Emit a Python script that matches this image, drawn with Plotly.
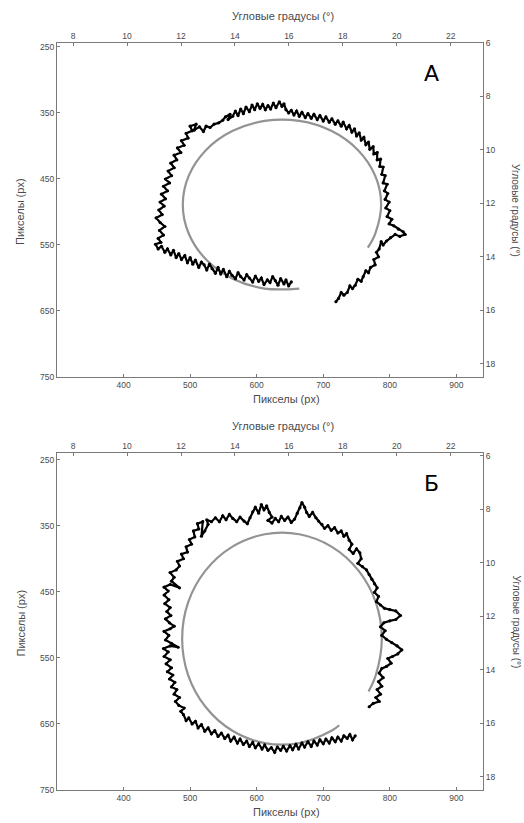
import plotly.graph_objects as go

# ---------------- data ----------------
# Panel A: target arc (gray), pixel-space coordinates of the experiment
arcA_x = [664, 612, 564, 524, 498, 489, 498, 524, 564, 612, 664, 712, 752, 778, 787, 778, 767]
arcA_y = [616, 616, 601, 572, 533, 489, 445, 406, 377, 362, 362, 377, 406, 445, 489, 533, 554]

# Panel A: gaze trace (black)
gazeA_x = [652, 648, 644, 641, 636, 632, 628, 624, 620, 616, 611, 607, 603, 598, 594, 589, 585, 581, 576, 572,
           568, 563, 559, 555, 550, 546, 542, 538, 533, 529, 525, 521, 517, 513, 508, 504, 500, 496, 492, 487,
           483, 479, 475, 471, 466, 462, 457, 452, 448, 456,
           452, 460, 454, 462, 455, 449, 458, 453, 461, 455, 463, 457, 466, 460, 469, 463, 472, 467, 476, 471,
           480, 476, 486, 481, 491, 487, 497, 494, 503, 500, 509, 506, 514, 520, 524,
           530, 536, 543, 549, 553, 560, 557, 564, 568, 572, 576, 580, 584, 589, 593, 597, 601, 605, 609, 613,
           617, 621, 625, 629, 634, 638, 641, 644, 648, 652, 656, 660, 664, 668, 673, 677, 682, 686, 691, 695,
           700, 704, 709, 713, 718, 722, 727, 730, 735, 739, 743, 747, 750, 754, 757, 761, 764, 768, 770, 775,
           776, 781, 781, 786, 785, 790, 788, 793, 790, 796, 792, 797, 793, 799, 794, 800, 796, 803, 799, 806,
           813, 820, 823, 815, 808, 801, 795, 790, 787, 784, 780, 783, 776, 778, 771, 768, 764, 760, 757, 752,
           748, 744, 740, 736, 731, 727, 723, 719]
gazeA_y = [606, 612, 603, 609, 601, 611, 604, 598, 607, 603, 610, 600, 605, 597, 606, 600, 595, 603, 598, 592,
           601, 596, 590, 598, 587, 594, 584, 593, 586, 579, 588, 580, 576, 584, 573, 579, 569, 577, 566, 572,
           563, 569, 558, 565, 556, 561, 552, 556, 549, 546,
           540, 535, 528, 522, 516, 509, 504, 497, 491, 485, 480, 473, 468, 461, 456, 450, 445, 438, 433, 426,
           421, 414, 410, 403, 399, 392, 388, 381, 377, 370, 367, 376, 371, 378, 370,
           372, 367, 365, 361, 356, 352, 360, 355, 347, 354, 344, 351, 341, 348, 338, 345, 336, 343, 337, 345,
           339, 344, 335, 342, 333, 340, 336, 345, 350, 346, 353, 347, 355, 349, 357, 351, 358, 352, 360, 354,
           362, 356, 364, 359, 367, 362, 370, 364, 374, 369, 379, 374, 385, 380, 391, 387, 398, 394, 405, 401,
           412, 410, 421, 420, 431, 432, 443, 445, 456, 458, 468, 472, 481, 485, 494, 498, 507, 511, 518, 521,
           526, 530, 534, 537, 534, 539, 544, 550, 545, 556, 561, 568, 572, 580, 584, 592, 589, 598, 605, 602,
           611, 616, 612, 622, 626, 622, 631, 636]

# Panel B: target arc (gray)
arcB_x = [724, 713, 664, 612, 563, 523, 497, 488, 497, 523, 563, 612, 664, 713, 753, 779, 788, 779, 768]
arcB_y = [652, 660, 679, 679, 660, 624, 576, 521, 466, 418, 382, 363, 363, 382, 418, 466, 521, 576, 601]

# Panel B: gaze trace (black)
gazeB_x = [748, 744, 740, 736, 731, 727, 722, 718, 713, 709, 704, 700, 695, 691, 686, 682, 677, 672, 668, 663,
           659, 654, 650, 645, 640, 636, 631, 627, 622, 617, 612, 608, 603, 598, 594, 589, 585, 580, 575, 571,
           566, 561, 557, 552, 547, 542, 537, 532, 527, 522, 517, 512, 508, 503, 498, 494, 490, 486, 491, 483,
           478, 484, 476, 480, 472, 477, 469, 474, 466, 472, 464, 470, 461, 467, 460, 470, 482, 472, 463, 468,
           461, 470, 476, 469, 463, 471, 465, 470, 462, 468, 461, 467, 461, 470, 484, 472, 476, 470, 479, 484,
           481, 490, 487, 496, 494, 502, 499, 507, 505, 513, 511, 519, 517, 522, 527, 525, 532,
           538, 544, 549, 554, 559, 564, 570, 575, 581, 586, 590, 594, 598, 603, 607, 611, 615, 619, 623, 617,
           623, 628, 633, 637, 642, 647, 652, 657, 661, 665, 668, 672, 675, 679, 684, 689, 693, 698, 702, 707,
           712, 717, 722, 727, 731, 735, 739, 743, 739, 745, 750, 755, 757, 752, 759, 765, 769, 773, 777, 781,
           777, 783, 780, 786, 792, 800, 809, 816, 809, 800, 791, 786, 793, 788, 795, 803, 811, 818, 812, 804,
           797, 802, 795, 788, 784, 790, 783, 788, 781, 786, 779, 784, 775, 769]
gazeB_y = [668, 674, 666, 672, 668, 676, 670, 677, 671, 679, 673, 680, 674, 682, 676, 684, 677, 685, 679, 688,
           681, 689, 683, 691, 684, 690, 685, 693, 686, 690, 682, 688, 680, 686, 678, 684, 676, 681, 673, 679,
           670, 676, 667, 672, 664, 669, 660, 665, 656, 661, 651, 656, 646, 650, 641, 645, 636, 631, 626, 622,
           616, 610, 605, 598, 594, 587, 582, 576, 571, 565, 559, 553, 548, 541, 536, 532, 534, 528, 523, 516,
           510, 506, 502, 497, 491, 486, 480, 474, 468, 462, 455, 449, 443, 439, 444, 434, 428, 421, 417, 411,
           404, 400, 393, 390, 382, 378, 371, 367, 358, 355, 347, 344, 366, 358, 348, 341, 344,
           338, 344, 335, 341, 333, 339, 344, 337, 343, 347, 338, 329, 322, 331, 318, 326, 320, 330, 337, 342,
           346, 339, 344, 336, 342, 337, 345, 340, 331, 323, 315, 322, 330, 336, 330, 338, 343, 348, 354, 350,
           357, 353, 361, 358, 366, 362, 372, 378, 386, 392, 385, 391, 400, 407, 412, 417, 424, 431, 438, 444,
           451, 457, 465, 470, 475, 477, 479, 486, 492, 494, 497, 503, 509, 516, 522, 527, 532, 538, 544, 548,
           551, 558, 563, 566, 573, 580, 586, 593, 598, 605, 610, 616, 619, 624]

px_ticks = [400, 500, 600, 700, 800, 900]
py_ticks = [250, 350, 450, 550, 650, 750]
deg_top_ticks = [8, 10, 12, 14, 16, 18, 20, 22]
deg_right_ticks = [6, 8, 10, 12, 14, 16, 18]

x_title = "Пикселы (px)"
y_title = "Пикселы (px)"
deg_title = "Угловые градусы (°)"
panel_labels = ["А", "Б"]

# ---------------- layout helpers ----------------
W, H = 524, 823
L, R, T, B = 57, 41, 43, 33
PW, PH = W - L - R, H - T - B


def fx(px):
    return (px - L) / PW


def fy(py):
    return (H - B - py) / PH


GRAY = "#7a7a7a"
TXT = "#4a4a4a"
FONT = "Liberation Sans, Arial, sans-serif"

fig = go.Figure()

panels = [
    dict(arc=(arcA_x, arcA_y), gaze=(gazeA_x, gazeA_y), xa="x", ya="y", xt="x2", yt="y2",
         dom=(fy(377), fy(43)), yr=[750, 244], rr=[18.5, 6.0], top=43, bottom=377),
    dict(arc=(arcB_x, arcB_y), gaze=(gazeB_x, gazeB_y), xa="x3", ya="y3", xt="x4", yt="y4",
         dom=(fy(790), fy(453)), yr=[750, 240], rr=[18.5, 5.9], top=453, bottom=790),
]

for i, p in enumerate(panels):
    fig.add_trace(go.Scatter(x=p["arc"][0], y=p["arc"][1], mode="lines",
                             line=dict(color="#939393", width=2.2, shape="spline"),
                             xaxis=p["xa"], yaxis=p["ya"], hoverinfo="skip", showlegend=False))
    fig.add_trace(go.Scatter(x=p["gaze"][0], y=p["gaze"][1], mode="lines+markers",
                             line=dict(color="black", width=2.2), marker=dict(color="black", size=3.2),
                             xaxis=p["xa"], yaxis=p["ya"], hoverinfo="skip", showlegend=False))
    # invisible trace to anchor the secondary (degree) axes
    fig.add_trace(go.Scatter(x=[15], y=[12], mode="markers", marker=dict(opacity=0),
                             xaxis=p["xt"], yaxis=p["yt"], hoverinfo="skip", showlegend=False))

axis_common = dict(showline=True, linecolor=GRAY, linewidth=1, ticks="inside", ticklen=3, tickcolor=GRAY,
                   showgrid=False, zeroline=False, tickfont=dict(size=8.5, color=TXT, family=FONT),
                   fixedrange=True)

layout = dict(width=W, height=H, autosize=False, margin=dict(l=L, r=R, t=T, b=B),
              paper_bgcolor="white", plot_bgcolor="white", showlegend=False, font=dict(family=FONT))

for i, p in enumerate(panels):
    sx = "" if i == 0 else str(2 * i + 1)
    st = str(2 * i + 2)
    layout["xaxis" + sx] = dict(axis_common, range=[300, 940], tickvals=px_ticks, anchor=p["ya"],
                                domain=[0, 1], side="bottom")
    layout["yaxis" + sx] = dict(axis_common, range=p["yr"], tickvals=py_ticks, anchor=p["xa"],
                                domain=list(p["dom"]), side="left")
    layout["xaxis" + st] = dict(axis_common, range=[7.4, 23.2], tickvals=deg_top_ticks, overlaying=p["xa"],
                                anchor=p["ya"], side="top")
    layout["yaxis" + st] = dict(axis_common, range=p["rr"], tickvals=deg_right_ticks, overlaying=p["ya"],
                                anchor=p["xa"], side="right")

fig.update_layout(**layout)

ann = []
title_font = dict(size=11, color=TXT, family=FONT)
for i, p in enumerate(panels):
    top, bot = p["top"], p["bottom"]
    mid = (top + bot) / 2
    base = dict(xref="paper", yref="paper", showarrow=False, xanchor="center", yanchor="middle")
    ann.append(dict(base, text=deg_title, x=fx(283), y=fy(top - 27), font=title_font))
    ann.append(dict(base, text=x_title, x=fx(286), y=fy(bot + 22), font=title_font))
    ann.append(dict(base, text=y_title, x=fx(20), y=fy(mid + 2), textangle=-90, font=title_font))
    ann.append(dict(base, text=deg_title, x=fx(516), y=fy(mid), textangle=90,
                    font=dict(size=10, color=TXT, family=FONT)))
    ann.append(dict(base, text=panel_labels[i], x=fx(431), y=fy(top + 30),
                    font=dict(size=22, color="black", family="DejaVu Sans, sans-serif")))
fig.update_layout(annotations=ann)

fig.write_html("out.html")
